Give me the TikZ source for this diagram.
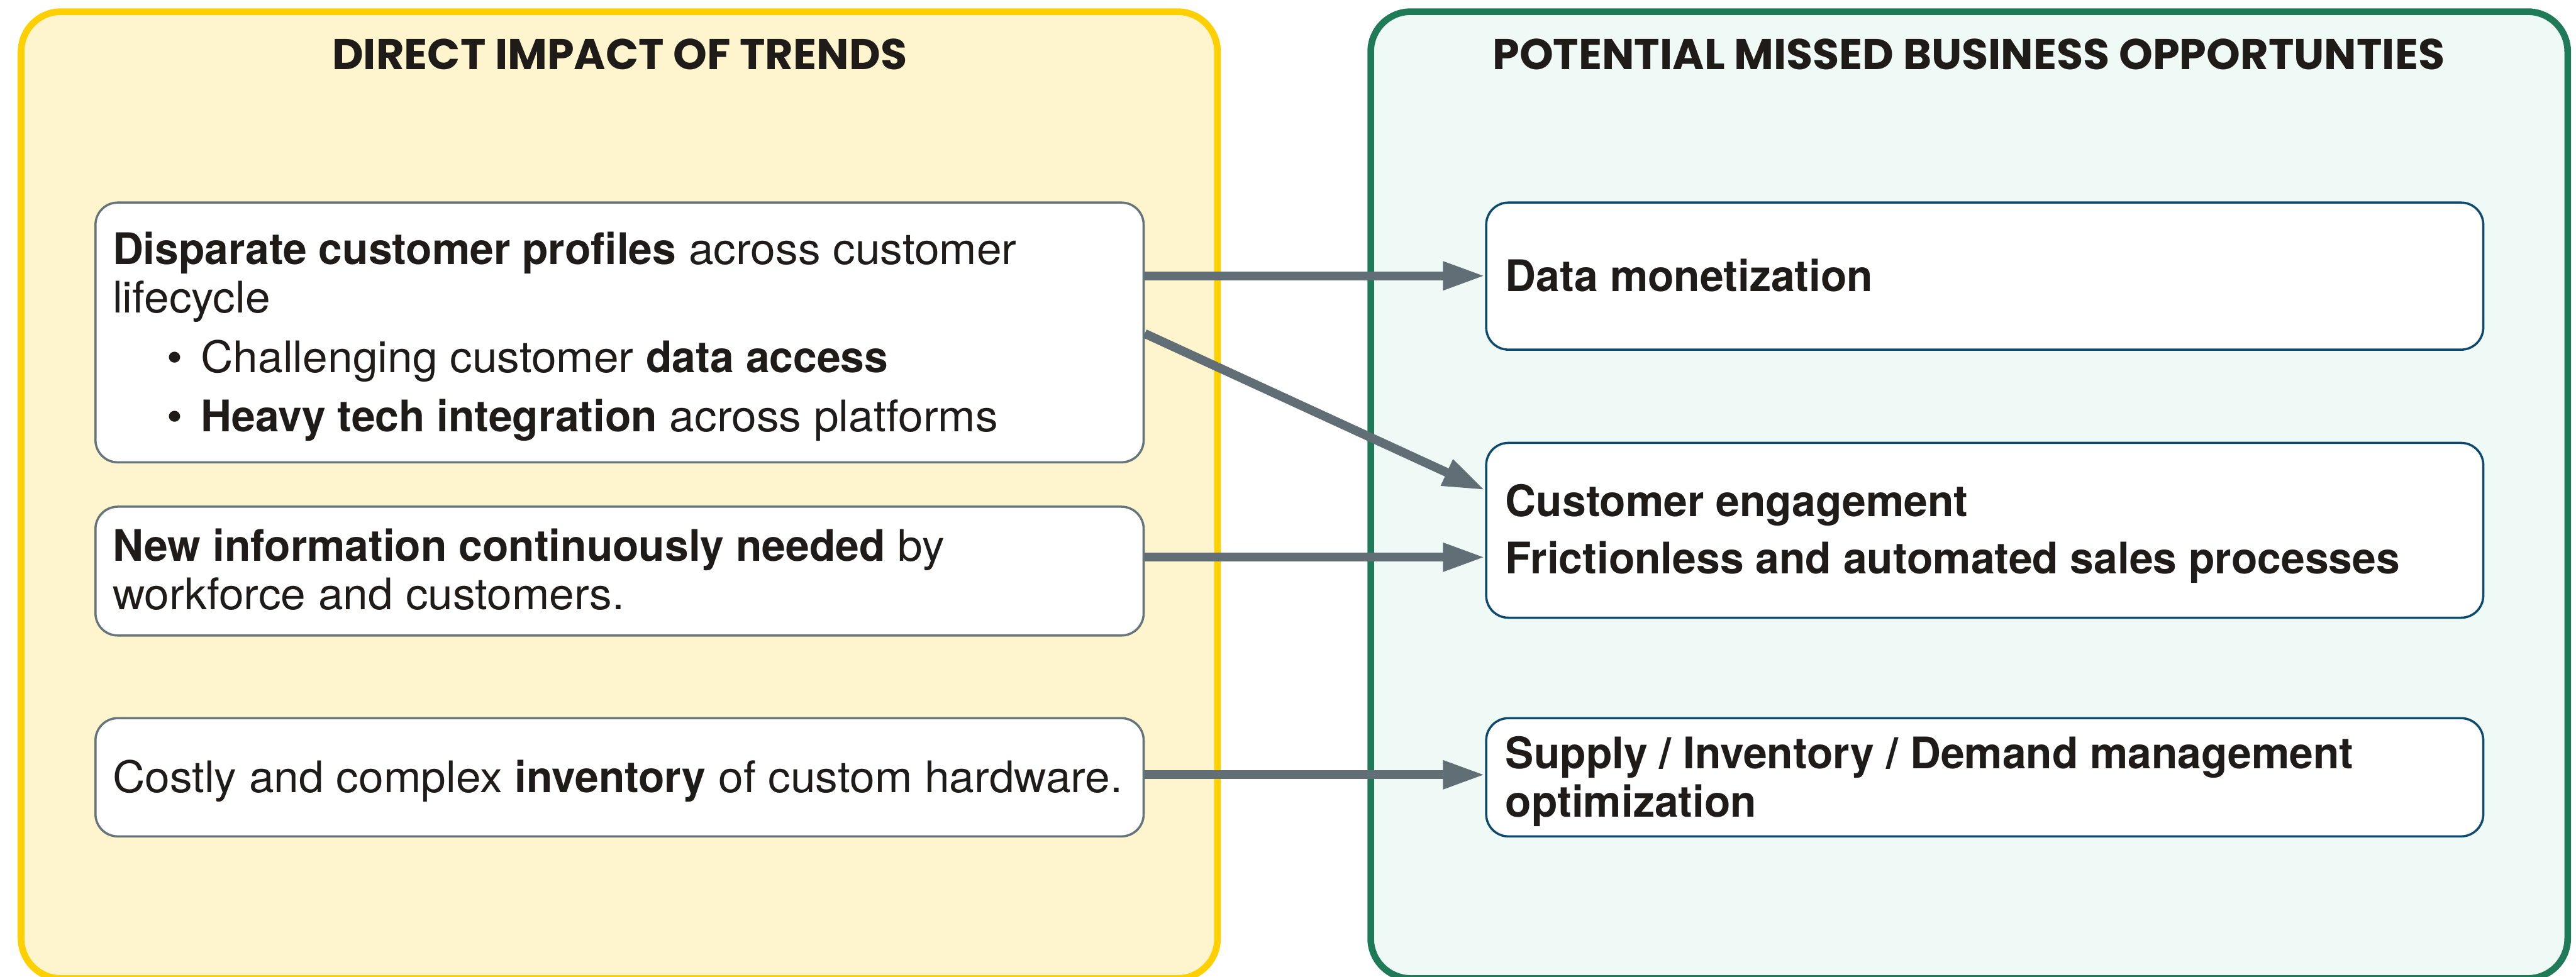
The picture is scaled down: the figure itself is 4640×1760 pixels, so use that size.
\documentclass[tikz,border=0pt]{standalone}
\usepackage{fontspec}
\setmainfont{texgyreheros-regular.otf}[FakeStretch=1.03]
\newfontfamily\heavyfont{texgyreheros-bold.otf}[FakeStretch=0.98]
\newfontfamily\titlefont{Poppins}
\newcommand\hvy[1]{{\heavyfont #1}}
\usetikzlibrary{arrows.meta,fit}

\definecolor{ink}{HTML}{1F1B18}
\definecolor{trendline}{HTML}{FFD000}
\definecolor{trendfill}{HTML}{FEF5CE}
\definecolor{oppline}{HTML}{1F7A57}
\definecolor{oppfill}{HTML}{EFF9F5}
\definecolor{lboxline}{HTML}{66747B}
\definecolor{rboxline}{HTML}{0E4A6E}
\definecolor{arrowgray}{HTML}{616E75}

\begin{document}
\begin{tikzpicture}[x=0.25pt,y=-0.25pt,
  panel/.style={line width=3pt,rounded corners=18pt},
  lbox/.style={draw=lboxline,fill=white,line width=1pt,rounded corners=10pt,inner sep=0pt},
  rbox/.style={draw=rboxline,fill=white,line width=1pt,rounded corners=10pt,inner sep=0pt},
  txt/.style={anchor=base west,inner sep=0pt,text=ink,font=\fontsize{19.6}{24}\selectfont},
  heavytxt/.style={txt,font=\heavyfont\fontsize{19.6}{24}\selectfont},
  heading/.style={anchor=base,inner sep=0pt,text=ink,font=\titlefont\bfseries\fontsize{19.4}{24}\selectfont},
  link/.style={draw=arrowgray,line width=4pt,-{Triangle[length=19pt,width=12pt]}}
]
\useasboundingbox (0,0) rectangle (4640,1760);

% two columns, running off the lower edge
\begin{scope}
  \clip (0,0) rectangle (4640,1760);
  \draw[panel,draw=trendline,fill=trendfill] (38,21) rectangle (2193,1763);
  \draw[panel,draw=oppline,fill=oppfill] (2469,21) rectangle (4625,1763);
\end{scope}

% column headings
\node[heading] (h1) at (1116,125) {DIRECT IMPACT OF TRENDS};
\node[heading] (h2) at (3546,125) {POTENTIAL MISSED BUSINESS OPPORTUNTIES};

% impact boxes
\node[lbox,fit={(172,365) (2060,833)}] (b1) {};
\node[lbox,fit={(172,913) (2060,1145)}] (b2) {};
\node[lbox,fit={(172,1294) (2060,1507)}] (b3) {};

% opportunity boxes
\node[rbox,fit={(2677,365) (4473,630)}] (ra) {};
\node[rbox,fit={(2677,798) (4473,1113)}] (rb) {};
\node[rbox,fit={(2677,1294) (4473,1507)}] (rc) {};

% impact texts
\node[txt] (t11) at (202,476) {\hvy{Disparate customer profiles} across customer};
\node[txt] (t12) at (202,564) {lifecycle};
\node[txt] (d13) at (300,671) {\textbullet};
\node[txt] (t13) at (361,671) {Challenging customer \hvy{data access}};
\node[txt] (d14) at (300,778) {\textbullet};
\node[txt] (t14) at (361,778) {\hvy{Heavy tech integration} across platforms};

\node[txt] (t21) at (202,1011) {\hvy{New information continuously needed} by};
\node[txt] (t22) at (202,1098) {workforce and customers.};

\node[txt] (t31) at (202,1428) {Costly and complex \hvy{inventory} of custom hardware.};

% opportunity texts
\node[heavytxt] (ta) at (2711,525) {Data monetization};
\node[heavytxt] (tb1) at (2711,931) {Customer engagement};
\node[heavytxt] (tb2) at (2711,1034) {Frictionless and automated sales processes};
\node[heavytxt] (tc1) at (2711,1385) {Supply / Inventory / Demand management};
\node[heavytxt] (tc2) at (2711,1472) {optimization};

% connectors
\coordinate (y1) at (0,497);
\coordinate (y2s) at (0,601);
\coordinate (y2e) at (0,883);
\coordinate (y3) at (0,1004);
\coordinate (y4) at (0,1396);
\draw[link] (b1.east |- y1) -- (ra.west |- y1);
\draw[link] (b1.east |- y2s) -- (rb.west |- y2e);
\draw[link] (b2.east |- y3) -- (rb.west |- y3);
\draw[link] (b3.east |- y4) -- (rc.west |- y4);
\end{tikzpicture}
\end{document}
